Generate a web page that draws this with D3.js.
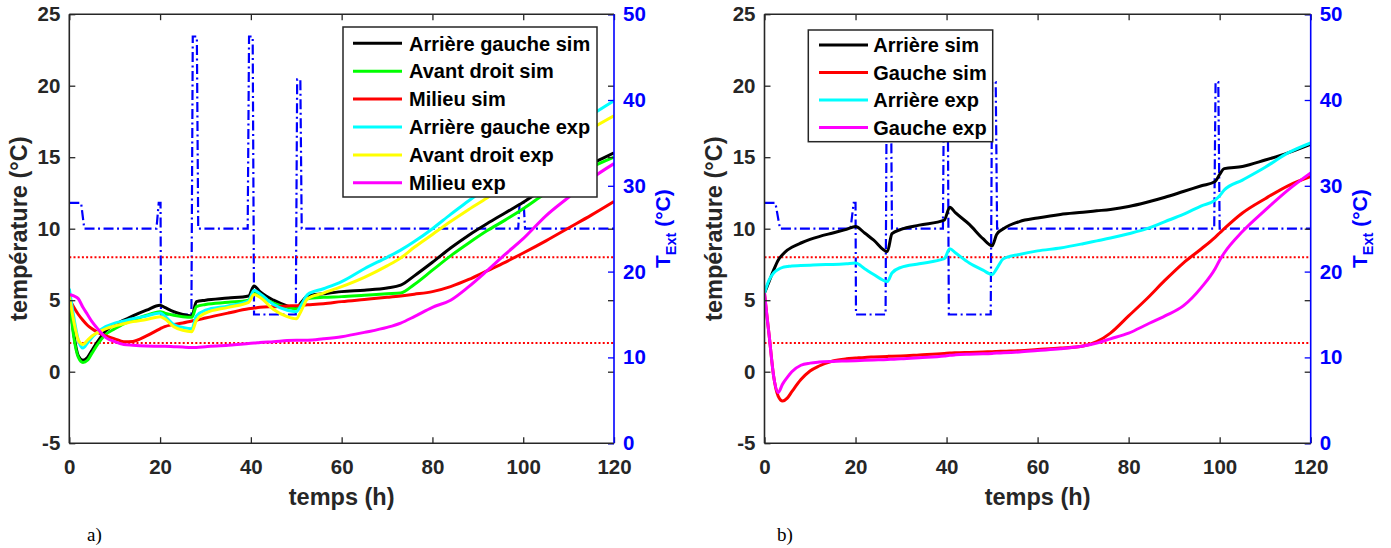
<!DOCTYPE html>
<html><head><meta charset="utf-8">
<script src="https://cdn.jsdelivr.net/npm/d3@7"></script>
<style>
html,body{margin:0;padding:0;background:#fff;}
svg{display:block;}
</style></head><body>
<svg id="chart" width="1391" height="548"></svg>
<script>
// ---------- DATA ----------
const xTicks = [0, 20, 40, 60, 80, 100, 120];
const yLeftTicks = [-5, 0, 5, 10, 15, 20, 25];
const yRightTicks = [0, 10, 20, 30, 40, 50];
const thresholds = [2, 8];

// Panel a)
const timeA = [0,1,2,3,4,5,6,8,10,12,14,17,20,21,23,25,27,28,30,35,39.5,40.7,42,45,48,50,51,52.5,56,60,65,70,73,76,80,84,88,92,96,100,105,110,115,120];
const arriereGaucheSim = [5.3,2.6,1.1,0.8,1.0,1.5,2.0,2.85,3.3,3.6,3.9,4.3,4.65,4.5,4.2,4.0,3.9,4.9,5.0,5.15,5.3,6.0,5.6,5.0,4.6,4.45,4.8,5.3,5.45,5.6,5.7,5.85,6.05,6.7,7.65,8.65,9.55,10.35,11.1,11.85,12.9,13.8,14.55,15.3];
const avantDroitSim = [5.2,2.4,1.0,0.65,0.8,1.3,1.8,2.6,3.0,3.35,3.6,3.95,4.2,4.1,3.95,3.85,3.8,4.55,4.7,4.85,5.0,5.6,5.3,4.8,4.5,4.4,4.7,5.1,5.2,5.25,5.35,5.45,5.5,6.1,7.1,8.1,9.0,9.85,10.6,11.4,12.5,13.5,14.3,15.0];
const milieuSim = [5.1,4.5,4.0,3.6,3.25,3.0,2.8,2.5,2.3,2.1,2.12,2.5,3.0,3.15,3.3,3.4,3.55,3.6,3.75,4.1,4.4,4.45,4.5,4.55,4.6,4.62,4.65,4.68,4.75,4.9,5.05,5.2,5.3,5.42,5.6,5.95,6.45,7.05,7.65,8.3,9.15,10.05,10.95,11.9];
const arriereGaucheExp = [5.8,3.8,2.2,1.65,2.0,2.4,2.7,3.15,3.4,3.55,3.7,3.9,4.1,3.9,3.3,3.1,3.0,3.9,4.3,4.6,4.95,5.7,5.45,4.7,4.3,4.2,4.6,5.4,5.8,6.3,7.2,8.0,8.5,9.1,10.0,11.0,11.95,12.9,13.8,14.7,15.8,16.9,17.95,18.95];
const avantDroitExp = [5.3,3.5,2.2,1.9,2.2,2.5,2.7,3.0,3.2,3.35,3.5,3.65,3.85,3.7,3.15,2.9,2.8,3.6,4.1,4.5,4.85,5.4,5.2,4.35,3.85,3.7,4.2,5.1,5.5,5.95,6.6,7.4,7.95,8.7,9.6,10.5,11.35,12.15,13.0,13.9,14.95,16.0,17.0,17.9];
const milieuExp = [5.4,5.3,5.1,4.5,4.0,3.5,3.1,2.4,2.1,1.9,1.85,1.8,1.78,1.78,1.75,1.72,1.7,1.7,1.75,1.85,1.98,2.0,2.05,2.1,2.18,2.2,2.2,2.2,2.3,2.45,2.75,3.1,3.4,3.85,4.5,5.0,5.95,7.05,8.2,9.3,10.9,12.2,13.5,14.55];
const textTimeA = [0,2.6,3.3,19.2,19.7,20.1,20.2,26.9,27.2,28.1,28.4,39.3,39.6,40.4,40.7,49.9,50.2,50.9,51.2,98.9,99.2,100.1,100.4,120];
const textValA = [28,28,25,25,28,28,15,15,47.4,47.4,25,25,47.4,47.4,15,15,42.4,42.4,25,25,28,28,25,25];

// Panel b)
const timeB = [0,0.5,1,2,3,4,5,6,8,10,12,15,18,20,22,24,27,28,30,34,39.5,40.7,42,45,48,50,51,52.5,56,60,65,70,73,76,80,84,88,92,96,99,100,101,105,110,115,120];
const arriereSim = [5.5,5.9,6.3,7.1,7.8,8.2,8.5,8.7,9.0,9.25,9.45,9.7,9.95,10.15,9.7,9.2,8.4,9.65,9.95,10.25,10.6,11.5,11.1,10.3,9.3,8.8,9.6,10.0,10.5,10.75,11.0,11.15,11.25,11.35,11.55,11.85,12.2,12.6,13.0,13.3,13.8,14.2,14.35,14.8,15.3,15.9];
const gaucheSim = [5.5,4.0,2.6,-0.3,-1.7,-2.05,-1.85,-1.4,-0.55,0.05,0.4,0.75,0.9,0.95,1.0,1.03,1.07,1.08,1.1,1.17,1.27,1.3,1.32,1.35,1.38,1.4,1.41,1.43,1.47,1.55,1.65,1.8,2.1,2.7,3.9,5.1,6.4,7.6,8.6,9.4,9.7,10.0,11.1,12.1,13.0,13.65];
const arriereExp = [5.5,6.0,6.4,6.9,7.15,7.3,7.35,7.4,7.42,7.45,7.48,7.5,7.55,7.6,7.2,6.8,6.3,6.9,7.3,7.55,7.9,8.6,8.3,7.6,7.1,6.8,7.2,7.9,8.2,8.45,8.65,8.95,9.15,9.35,9.65,10.0,10.5,11.0,11.6,12.0,12.3,12.7,13.4,14.3,15.3,16.0];
const gaucheExp = [5.5,4.0,2.6,-0.3,-1.45,-0.85,-0.4,0.0,0.45,0.6,0.67,0.72,0.75,0.77,0.8,0.82,0.85,0.87,0.9,0.98,1.1,1.15,1.18,1.22,1.25,1.28,1.3,1.32,1.38,1.48,1.6,1.8,2.0,2.3,2.7,3.3,3.9,4.6,5.9,7.2,7.8,8.3,9.8,11.3,12.7,13.9];
const textTimeB = [0,2.4,3.4,18.9,19.6,20.0,20.1,26.6,26.9,27.7,28.0,39.2,39.5,40.2,40.5,49.7,50.0,50.8,51.1,98.8,99.1,99.7,100.0,120];
const textValB = [28,28,25,25,28,28,15,15,47.4,47.4,25,25,47.4,47.4,15,15,42.1,42.1,25,25,42.1,42.1,25,25];

// ---------- DRAW ----------
const svg = d3.select("#chart");
const TOP = 14.2, BOTTOM = 443.2;
const AX = "#262626", BLUE = "#0000ff";
const FONT = "'Liberation Sans', Arial, Helvetica, sans-serif";

function styleAxis(sel, color, size) {
  sel.attr("font-family", FONT).attr("font-size", size).attr("font-weight", "bold");
  sel.select(".domain").remove();
  sel.selectAll(".tick line").attr("stroke", color).attr("stroke-width", 1.3);
  sel.selectAll(".tick text").attr("fill", color);
}

function drawPanel(p) {
  const x = d3.scaleLinear().domain([0, 120]).range([p.x0, p.x1]);
  const yL = d3.scaleLinear().domain([-5, 25]).range([BOTTOM, TOP]);
  const yR = d3.scaleLinear().domain([0, 50]).range([BOTTOM, TOP]);
  const g = svg.append("g");

  svg.append("clipPath").attr("id", "clip" + p.id).append("rect")
    .attr("x", p.x0).attr("y", TOP).attr("width", p.x1 - p.x0).attr("height", BOTTOM - TOP);
  const plot = g.append("g").attr("clip-path", `url(#clip${p.id})`);

  // outside temperature (right axis)
  const lineR = d3.line().x(d => x(d[0])).y(d => yR(d[1]));
  plot.append("path")
    .attr("d", lineR(p.textTime.map((t, i) => [t, p.textVal[i]])))
    .attr("fill", "none").attr("stroke", BLUE).attr("stroke-width", 2.2)
    .attr("stroke-dasharray", "10,3.5,2,3.5");

  // thresholds
  thresholds.forEach(v => {
    plot.append("line").attr("x1", p.x0).attr("x2", p.x1)
      .attr("y1", yL(v)).attr("y2", yL(v))
      .attr("stroke", "#ff0000").attr("stroke-width", 2).attr("stroke-dasharray", "2,2.2");
  });

  // series
  const line = d3.line().x(d => x(d[0])).y(d => yL(d[1])).curve(d3.curveMonotoneX);
  p.series.forEach(s => {
    plot.append("path")
      .attr("d", line(p.time.map((t, i) => [t, s.values[i]])))
      .attr("fill", "none").attr("stroke", s.color).attr("stroke-width", 3)
      .attr("stroke-linejoin", "round");
  });

  // axes
  const fmt = d => String(d);
  const xb = g.append("g").attr("transform", `translate(0,${BOTTOM})`)
    .call(d3.axisBottom(x).tickValues(xTicks).tickSizeInner(-6).tickSizeOuter(0).tickPadding(16).tickFormat(fmt));
  styleAxis(xb, AX, 20.5);
  const xt = g.append("g").attr("transform", `translate(0,${TOP})`)
    .call(d3.axisTop(x).tickValues(xTicks).tickSizeInner(-6).tickSizeOuter(0).tickFormat(() => ""));
  styleAxis(xt, AX, 20.5);
  const yl = g.append("g").attr("transform", `translate(${p.x0},0)`)
    .call(d3.axisLeft(yL).tickValues(yLeftTicks).tickSizeInner(-6).tickSizeOuter(0).tickPadding(9).tickFormat(fmt));
  styleAxis(yl, AX, 20.5);
  const ylm = g.append("g").attr("transform", `translate(${p.x1},0)`)
    .call(d3.axisRight(yL).tickValues(yLeftTicks).tickSizeInner(-6).tickSizeOuter(0).tickFormat(() => ""));
  styleAxis(ylm, AX, 20.5);
  const yr = g.append("g").attr("transform", `translate(${p.x1},0)`)
    .call(d3.axisRight(yR).tickValues(yRightTicks).tickSizeInner(-6).tickSizeOuter(0).tickPadding(9).tickFormat(fmt));
  styleAxis(yr, BLUE, 20.5);

  // box
  const box = g.append("g").attr("stroke-width", 1.6).attr("fill", "none");
  box.append("line").attr("x1", p.x0).attr("x2", p.x1).attr("y1", TOP).attr("y2", TOP).attr("stroke", AX);
  box.append("line").attr("x1", p.x0).attr("x2", p.x1).attr("y1", BOTTOM).attr("y2", BOTTOM).attr("stroke", AX);
  box.append("line").attr("x1", p.x0).attr("x2", p.x0).attr("y1", TOP).attr("y2", BOTTOM).attr("stroke", AX);
  box.append("line").attr("x1", p.x1).attr("x2", p.x1).attr("y1", TOP).attr("y2", BOTTOM).attr("stroke", BLUE);

  // axis titles
  const midY = (TOP + BOTTOM) / 2;
  g.append("text").attr("x", (p.x0 + p.x1) / 2).attr("y", 505)
    .attr("text-anchor", "middle").attr("font-family", FONT).attr("font-weight", "bold")
    .attr("font-size", 23.5).attr("fill", AX).text("temps (h)");
  g.append("text").attr("transform", `translate(${p.x0 - 42.3},${midY}) rotate(-90)`)
    .attr("text-anchor", "middle").attr("font-family", FONT).attr("font-weight", "bold")
    .attr("font-size", 23.5).attr("fill", AX).text("température (°C)");
  const tr = g.append("text").attr("transform", `translate(${p.x1 + 56},${midY}) rotate(-90)`)
    .attr("text-anchor", "middle").attr("font-family", FONT).attr("font-weight", "bold")
    .attr("font-size", 21).attr("fill", BLUE);
  tr.append("tspan").text("T");
  tr.append("tspan").attr("font-size", 14.5).attr("dy", 6).text("Ext");
  tr.append("tspan").attr("dy", -6).text(" (°C)");

  // legend
  const L = p.legend;
  const lg = g.append("g");
  lg.append("rect").attr("x", L.x).attr("y", L.y).attr("width", L.w).attr("height", L.h)
    .attr("fill", "#fff").attr("stroke", AX).attr("stroke-width", 1.5);
  p.series.forEach((s, i) => {
    const cy = L.row0 + i * L.step;
    lg.append("line").attr("x1", L.lx0).attr("x2", L.lx1).attr("y1", cy).attr("y2", cy)
      .attr("stroke", s.color).attr("stroke-width", 3);
    lg.append("text").attr("x", L.tx).attr("y", cy + 7.2)
      .attr("font-family", FONT).attr("font-weight", "bold").attr("font-size", 20)
      .attr("fill", "#000").text(s.name);
  });

  // panel tag
  svg.append("text").attr("x", p.tagX).attr("y", 541)
    .attr("font-family", "'Liberation Serif', 'DejaVu Serif', serif").attr("font-size", 19)
    .attr("fill", "#000").text(p.tag);
}

drawPanel({
  id: "a", x0: 69.3, x1: 614, tag: "a)", tagX: 87,
  time: timeA, textTime: textTimeA, textVal: textValA,
  series: [
    { name: "Arrière gauche sim", color: "#000000", values: arriereGaucheSim },
    { name: "Avant droit sim", color: "#00ff00", values: avantDroitSim },
    { name: "Milieu sim", color: "#ff0000", values: milieuSim },
    { name: "Arrière gauche exp", color: "#00ffff", values: arriereGaucheExp },
    { name: "Avant droit exp", color: "#ffff00", values: avantDroitExp },
    { name: "Milieu exp", color: "#ff00ff", values: milieuExp }
  ],
  legend: { x: 343, y: 27, w: 254, h: 170, row0: 43.3, step: 27.9, lx0: 353, lx1: 402, tx: 409 }
});

drawPanel({
  id: "b", x0: 764.5, x1: 1310.7, tag: "b)", tagX: 777,
  time: timeB, textTime: textTimeB, textVal: textValB,
  series: [
    { name: "Arrière sim", color: "#000000", values: arriereSim },
    { name: "Gauche sim", color: "#ff0000", values: gaucheSim },
    { name: "Arrière exp", color: "#00ffff", values: arriereExp },
    { name: "Gauche exp", color: "#ff00ff", values: gaucheExp }
  ],
  legend: { x: 808.3, y: 30, w: 184.4, h: 111.7, row0: 45, step: 27.5, lx0: 819, lx1: 868, tx: 873.3 }
});
</script>
</body></html>
